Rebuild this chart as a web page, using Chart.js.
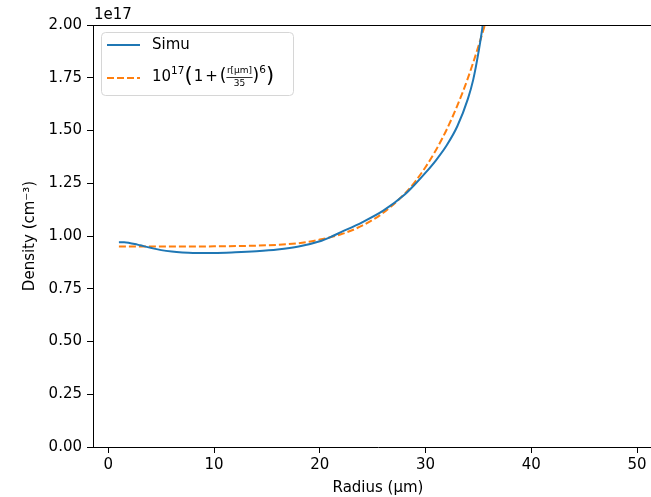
<!DOCTYPE html>
<html>
<head>
<meta charset="utf-8">
<script src="https://cdn.jsdelivr.net/npm/chart.js@4/dist/chart.umd.min.js"></script>
<style>
  html, body { margin: 0; padding: 0; background: #fff; overflow: hidden; }
  #wrap { width: 663px; height: 497px; }
</style>
</head>
<body>
<div id="wrap"><canvas id="chart"></canvas></div>
<script>
// values in units of 1e17 cm^-3
const simuRadius = [1, 1.5, 2, 2.5, 3, 4, 5, 6, 7, 8, 10, 12, 14, 16, 18, 20, 21, 22, 24, 26, 28, 29, 30, 31, 32, 33, 34, 34.5, 35, 35.4, 36];
const simuDensity = [0.970, 0.970, 0.967, 0.962, 0.956, 0.944, 0.933, 0.926, 0.922, 0.920, 0.920, 0.923, 0.928, 0.936, 0.950, 0.975, 0.995, 1.018, 1.065, 1.120, 1.195, 1.245, 1.300, 1.360, 1.430, 1.520, 1.650, 1.740, 1.870, 2.000, 2.300];

const fitRadius = [1, 5, 10, 15, 18, 20, 22, 24, 26, 28, 29, 30, 31, 32, 33, 34, 35, 35.6, 36];
const fitDensity = [0.950, 0.950, 0.951, 0.956, 0.966, 0.983, 1.008, 1.049, 1.110, 1.199, 1.257, 1.327, 1.409, 1.505, 1.618, 1.748, 1.900, 2.000, 2.075];

const xTicks = [0, 10, 20, 30, 40, 50];
const FONT = 'DejaVu Sans';
const FS = 15;

const toPoints = (xs, ys) => xs.map((x, i) => ({ x, y: ys[i] }));

const frame = {
    id: 'frame',
    afterDraw(chart) {
        const { ctx, chartArea: a } = chart;
        ctx.save();
        // top spine
        ctx.strokeStyle = '#000';
        ctx.lineWidth = 1;
        ctx.beginPath();
        ctx.moveTo(a.left, a.top + 0.5);
        ctx.lineTo(a.right, a.top + 0.5);
        ctx.stroke();

        // offset label
        ctx.fillStyle = '#000';
        ctx.font = `${FS}px "${FONT}"`;
        ctx.textAlign = 'left';
        ctx.textBaseline = 'alphabetic';
        ctx.fillText('1e17', 94, 19);

        // legend box
        const bx = 101, by = 32, bw = 192, bh = 63, r = 4;
        ctx.fillStyle = 'rgba(255,255,255,0.8)';
        ctx.strokeStyle = '#d6d6d6';
        ctx.beginPath();
        ctx.roundRect(bx + 0.5, by + 0.5, bw, bh, r);
        ctx.fill();
        ctx.stroke();

        // entry 1
        ctx.lineWidth = 2;
        ctx.strokeStyle = '#1f77b4';
        ctx.beginPath();
        ctx.moveTo(107, 45);
        ctx.lineTo(140, 45);
        ctx.stroke();
        ctx.fillStyle = '#000';
        ctx.font = `${FS}px "${FONT}"`;
        ctx.textBaseline = 'middle';
        ctx.fillText('Simu', 152, 45);

        // entry 2
        ctx.strokeStyle = '#ff7f0e';
        ctx.setLineDash([7, 3]);
        ctx.beginPath();
        ctx.moveTo(107, 78);
        ctx.lineTo(140, 78);
        ctx.stroke();
        ctx.setLineDash([]);

        let x = 152;
        const y = 77;
        const put = (txt, size, dy, gap = 0) => {
            ctx.font = `${size}px "${FONT}"`;
            ctx.fillText(txt, x, y + dy);
            x += ctx.measureText(txt).width + gap;
        };
        put('10', FS, 0);
        put('17', 10.5, -6);
        put('(', 21, 0, 1);
        put('1', FS, 0, 2);
        put('+', FS, 0, 2);
        put('(', 17, 0);
        // fraction
        ctx.font = `9px "${FONT}"`;
        const num = 'r[\u03bcm]', den = '35';
        const nw = ctx.measureText(num).width;
        const dw = ctx.measureText(den).width;
        const fw = Math.max(nw, dw) + 1;
        ctx.fillText(num, x + (fw - nw) / 2, y - 6);
        ctx.fillText(den, x + (fw - dw) / 2, y + 7);
        ctx.lineWidth = 0.8;
        ctx.strokeStyle = '#000';
        ctx.beginPath();
        ctx.moveTo(x, y + 0.5);
        ctx.lineTo(x + fw, y + 0.5);
        ctx.stroke();
        x += fw;
        put(')', 17, 0);
        put('6', 10.5, -7);
        put(')', 21, 0);
        ctx.restore();
    }
};

new Chart(document.getElementById('chart'), {
    type: 'line',
    data: {
        datasets: [
            {
                label: 'Simu',
                data: toPoints(simuRadius, simuDensity),
                borderColor: '#1f77b4',
                borderWidth: 2,
                pointRadius: 0,
                cubicInterpolationMode: 'monotone',
                fill: false
            },
            {
                label: 'fit',
                data: toPoints(fitRadius, fitDensity),
                borderColor: '#ff7f0e',
                borderWidth: 2,
                borderDash: [7, 3],
                pointRadius: 0,
                cubicInterpolationMode: 'monotone',
                fill: false
            }
        ]
    },
    options: {
        responsive: true,
        maintainAspectRatio: false,
        animation: false,
        layout: { padding: { top: 25, right: 0, left: 0, bottom: 0 } },
        plugins: {
            legend: { display: false },
            tooltip: { enabled: false }
        },
        scales: {
            x: {
                type: 'linear',
                min: -1.45,
                max: 52.45,
                afterBuildTicks: s => { s.ticks = xTicks.map(v => ({ value: v })); },
                afterFit: s => { s.height = 50; },
                grid: { drawOnChartArea: false, drawTicks: true, tickLength: 6, color: '#000' },
                border: { display: true, color: '#000', width: 1 },
                ticks: { color: '#000', font: { family: FONT, size: FS }, padding: 3, maxRotation: 0 },
                title: { display: true, text: 'Radius (\u03bcm)', color: '#000', font: { family: FONT, size: FS }, padding: { top: 0, bottom: 0 } }
            },
            y: {
                min: 0,
                max: 2,
                afterFit: s => { s.width = 93; },
                grid: { drawOnChartArea: false, drawTicks: true, tickLength: 6, color: '#000' },
                border: { display: true, color: '#000', width: 1 },
                ticks: {
                    stepSize: 0.25,
                    color: '#000',
                    font: { family: FONT, size: FS },
                    padding: 5,
                    callback: v => v.toFixed(2)
                },
                title: { display: true, text: 'Density (cm\u207b\u00b3)', color: '#000', font: { family: FONT, size: FS }, padding: { top: 21, bottom: 0 } }
            }
        }
    },
    plugins: [frame]
});
</script>
</body>
</html>
